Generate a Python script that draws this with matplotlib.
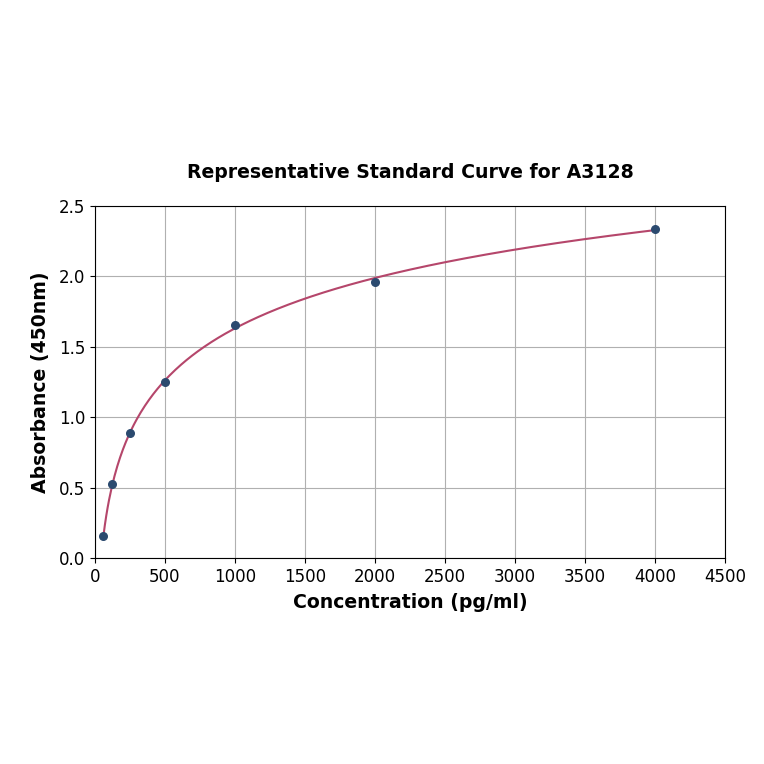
import numpy as np
import matplotlib
matplotlib.use("Agg")
import matplotlib.pyplot as plt

conc = [62.5, 125, 250, 500, 1000, 2000, 4000]
absorb = [0.158, 0.523, 0.886, 1.252, 1.655, 1.960, 2.340]
title = "Representative Standard Curve for A3128"
xlabel = "Concentration (pg/ml)"
ylabel = "Absorbance (450nm)"

x = np.array(conc, dtype=float)
y = np.array(absorb, dtype=float)

# 4PL fit via grid search over c, b with linear least squares for a, d
best = None
for b in np.linspace(0.3, 2.5, 111):
    for c in np.exp(np.linspace(np.log(100), np.log(50000), 200)):
        g = 1.0 / (1.0 + (x / c) ** b)
        A = np.column_stack([g, 1 - g])
        coef, *_ = np.linalg.lstsq(A, y, rcond=None)
        r = np.sum((A @ coef - y) ** 2)
        if best is None or r < best[0]:
            best = (r, b, c, coef)
_, b, c, (a, d) = best
xs = np.linspace(x.min(), x.max(), 400)
ys = d + (a - d) / (1 + (xs / c) ** b)

fig = plt.figure(figsize=(7.64, 7.64), dpi=100)
ax = fig.add_axes([0.124, 0.2696, 0.825, 0.4608])
ax.plot(xs, ys, color="#b5466b", lw=1.5, zorder=3)
ax.scatter(x, y, s=30, color="#2b4a6f", zorder=4)
ax.set_xlim(0, 4500)
ax.set_ylim(0, 2.5)
ax.set_xticks(np.arange(0, 4501, 500))
ax.set_yticks(np.arange(0, 2.51, 0.5))
ax.grid(True, color="#b0b0b0", lw=0.8)
ax.set_axisbelow(True)
ax.tick_params(labelsize=12)
ax.set_title(title, fontsize=13.6, fontweight="bold", pad=20)
ax.set_xlabel(xlabel, fontsize=13.6, fontweight="bold", labelpad=5)
ax.set_ylabel(ylabel, fontsize=13.6, fontweight="bold", labelpad=6)
fig.savefig("out.png", dpi=100)
